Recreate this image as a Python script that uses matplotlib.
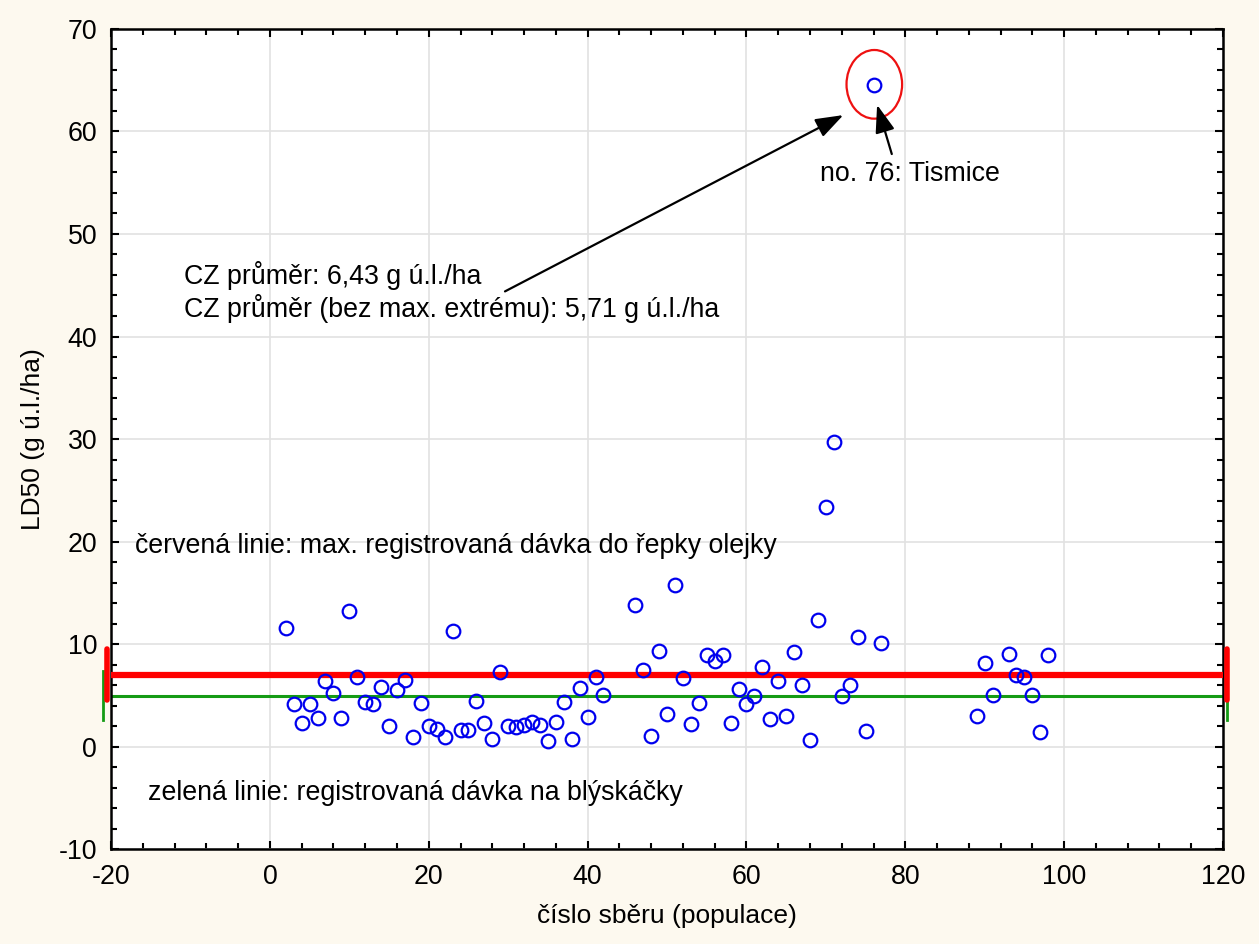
import matplotlib
matplotlib.use("Agg")
import matplotlib.pyplot as plt
from matplotlib.patches import Ellipse
import numpy as np

# --- Data: collection number vs. LD50 ---
sample_ids = [2, 3, 4, 5, 6, 7, 8, 9, 10, 11, 12, 13, 14, 15, 16, 17, 18, 19, 20,
              21, 22, 23, 24, 25, 26, 27, 28, 29, 30, 31, 32, 33, 34, 35, 36, 37,
              38, 39, 40, 41, 42, 46, 47, 48, 49, 50, 51, 52, 53, 54, 55, 56, 57,
              58, 59, 60, 61, 62, 63, 64, 65, 66, 67, 68, 69, 70, 71, 72, 73, 74,
              75, 76, 77, 89, 90, 91, 93, 94, 95, 96, 97, 98]
ld50 = [11.6, 4.1, 2.3, 4.1, 2.8, 6.4, 5.2, 2.8, 13.2, 6.8, 4.3, 4.1, 5.8, 2.0,
        5.5, 6.5, 0.95, 4.2, 2.0, 1.7, 0.95, 11.3, 1.6, 1.6, 4.4, 2.3, 0.75, 7.3,
        2.0, 1.9, 2.1, 2.35, 2.1, 0.5, 2.35, 4.3, 0.7, 5.7, 2.9, 6.8, 5.0, 13.8,
        7.5, 1.0, 9.3, 3.2, 15.8, 6.7, 2.2, 4.2, 8.9, 8.3, 8.9, 2.3, 5.6, 4.1,
        4.9, 7.8, 2.7, 6.35, 3.0, 9.2, 6.0, 0.6, 12.3, 23.4, 29.7, 4.9, 6.05,
        10.65, 1.5, 64.5, 10.1, 3.0, 8.1, 5.0, 9.0, 7.0, 6.8, 5.0, 1.45, 8.95]

red_level = 7.0     # max. registered dose, oilseed rape
green_level = 4.95  # registered dose for pollen beetle
outlier_id = 76

xlim = (-20, 120)
ylim = (-10, 70)
x_ticks = [-20, 0, 20, 40, 60, 80, 100, 120]
y_ticks = [-10, 0, 10, 20, 30, 40, 50, 60, 70]

plt.rcParams['font.family'] = ['Liberation Sans', 'DejaVu Sans']
plt.rcParams['axes.unicode_minus'] = False

bg = "#fdf9ef"
fs = 19.3
fig = plt.figure(figsize=(12.59, 9.44), dpi=100)
fig.patch.set_facecolor(bg)
ax = fig.add_axes([0.0882, 0.1006, 0.8832, 0.8687])
ax.set_facecolor("white")

ax.set_xlim(*xlim)
ax.set_ylim(*ylim)
ax.set_xticks(x_ticks)
ax.set_yticks(y_ticks)
ax.set_xticks(np.arange(-20, 121, 4), minor=True)
ax.set_yticks(np.arange(-10, 71, 2), minor=True)
ax.grid(True, which="major", color="#e2e2e2", linewidth=1.2, zorder=0)

ax.tick_params(which="both", direction="in", top=True, right=True,
               labelsize=fs, colors="black")
ax.tick_params(axis="x", which="both", pad=11)
ax.tick_params(axis="y", which="both", pad=10)
ax.tick_params(which="major", length=6, width=1.5)
ax.tick_params(which="minor", length=4, width=1.5)
for s in ax.spines.values():
    s.set_linewidth(1.8)

# reference lines with end caps
ax.plot(xlim, [green_level, green_level], color="#159b15", lw=2.2, zorder=2,
        solid_capstyle="butt")
ax.plot(xlim, [red_level, red_level], color="#ff0000", lw=4.5, zorder=3,
        solid_capstyle="butt")
for xc in (-21.0, 120.5):
    ax.plot([xc, xc], [green_level - 2.4, green_level + 2.4], color="#159b15",
            lw=2.0, clip_on=False, zorder=4)
for xc in (-20.45, 120.5):
    ax.plot([xc, xc], [red_level - 2.5, red_level + 2.5], color="#ff0000",
            lw=4.0, clip_on=False, zorder=5, solid_capstyle="round")

# points
ax.plot(sample_ids, ld50, linestyle="none", marker="o", markersize=9.8,
        markerfacecolor="none", markeredgecolor="#0000ee", markeredgewidth=1.6,
        zorder=6)

# outlier highlight
oy = ld50[sample_ids.index(outlier_id)]
ax.add_patch(Ellipse((outlier_id + 0.1, oy + 0.1), 7.0, 6.7, fill=False,
                     edgecolor="#ee1111", lw=1.6, zorder=7))

arrow_kw = dict(arrowstyle="-|>,head_length=1.7,head_width=0.6",
                color="black", lw=1.6, shrinkA=0, shrinkB=0)
ax.annotate("", xy=(72.2, 61.6), xytext=(29.6, 44.4), arrowprops=arrow_kw,
            zorder=8)
ax.annotate("", xy=(76.45, 62.6), xytext=(78.3, 57.8), arrowprops=arrow_kw,
            zorder=8)

ax.text(-10.8, 45.95, "CZ průměr: 6,43 g ú.l./ha", fontsize=fs,
        va="center", ha="left")
ax.text(-10.8, 42.7, "CZ průměr (bez max. extrému): 5,71 g ú.l./ha",
        fontsize=fs, va="center", ha="left")
ax.text(69.2, 55.9, "no. 76: Tismice", fontsize=fs, va="center", ha="left")
ax.text(-17.0, 19.6, "červená linie: max. registrovaná dávka do řepky olejky",
        fontsize=fs, va="center", ha="left")
ax.text(-15.35, -4.5, "zelená linie: registrovaná dávka na blýskáčky",
        fontsize=fs, va="center", ha="left")

ax.set_xlabel("číslo sběru (populace)", fontsize=19, labelpad=10)
ax.set_ylabel("LD50 (g ú.l./ha)", fontsize=19, labelpad=10)

fig.savefig("out.png", dpi=100, facecolor=fig.get_facecolor())
